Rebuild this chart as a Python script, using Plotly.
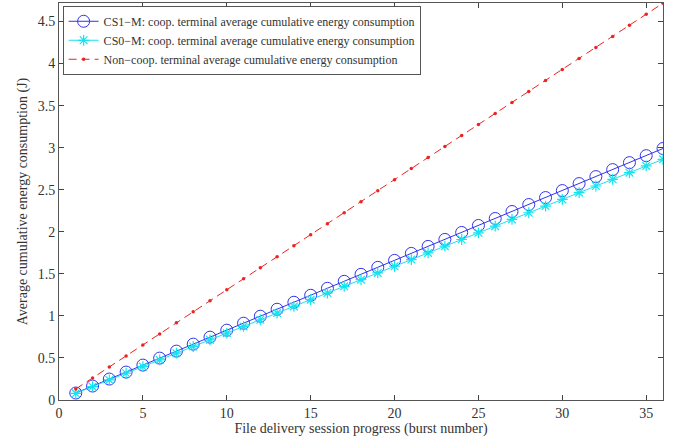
import plotly.graph_objects as go

bursts = list(range(1, 37))
cs1_m = [0.083, 0.166, 0.249, 0.332, 0.415, 0.498, 0.581, 0.664, 0.747, 0.830,
         0.913, 0.996, 1.079, 1.162, 1.245, 1.328, 1.411, 1.494, 1.577, 1.660,
         1.743, 1.826, 1.909, 1.992, 2.075, 2.158, 2.241, 2.324, 2.407, 2.490,
         2.573, 2.656, 2.739, 2.822, 2.905, 2.990]
cs0_m = [0.0795, 0.159, 0.2385, 0.318, 0.3975, 0.477, 0.5565, 0.636, 0.7155, 0.795,
         0.8745, 0.954, 1.0335, 1.113, 1.1925, 1.272, 1.3515, 1.431, 1.5105, 1.590,
         1.6695, 1.749, 1.8285, 1.908, 1.9875, 2.067, 2.1465, 2.226, 2.3055, 2.385,
         2.4645, 2.544, 2.6235, 2.703, 2.7825, 2.862]
noncoop = [0.131, 0.262, 0.393, 0.524, 0.655, 0.786, 0.917, 1.048, 1.179, 1.310,
           1.441, 1.572, 1.703, 1.834, 1.965, 2.096, 2.227, 2.358, 2.489, 2.620,
           2.751, 2.882, 3.013, 3.144, 3.275, 3.406, 3.537, 3.668, 3.799, 3.930,
           4.061, 4.192, 4.323, 4.454, 4.585, 4.718]

x_ticks = [0, 5, 10, 15, 20, 25, 30, 35]
y_ticks = [0, 0.5, 1, 1.5, 2, 2.5, 3, 3.5, 4, 4.5]
y_tick_text = ["0", "0.5", "1", "1.5", "2", "2.5", "3", "3.5", "4", "4.5"]

fig = go.Figure()
fig.add_trace(go.Scatter(
    x=bursts, y=cs1_m, mode="lines+markers",
    name="CS1\u2212M: coop. terminal average cumulative energy consumption",
    line=dict(color="#3333ee", width=1),
    marker=dict(symbol="circle-open", size=12, color="#3333ee", line=dict(width=1))))
fig.add_trace(go.Scatter(
    x=bursts, y=cs0_m, mode="lines+markers",
    name="CS0\u2212M: coop. terminal average cumulative energy consumption",
    line=dict(color="#22ddee", width=1),
    marker=dict(symbol="asterisk-open", size=9, color="#11e5f0", line=dict(width=1.2, color="#11e5f0"))))
fig.add_trace(go.Scatter(
    x=bursts, y=noncoop, mode="lines+markers",
    name="Non\u2212coop. terminal average cumulative energy consumption",
    line=dict(color="#ee2222", width=1, dash="8px,5px"),
    marker=dict(symbol="circle", size=3.5, color="#ee2222")))

axis_common = dict(
    showgrid=False, zeroline=False, ticks="inside", ticklen=5,
    tickcolor="#444", showline=True, linecolor="#555", linewidth=1, mirror="ticks",
    tickfont=dict(family="Liberation Serif", size=14, color="#333"),
    title_font=dict(family="Liberation Serif", size=14, color="#333"),
    automargin=False,
)

fig.update_xaxes(range=[0, 36], tickvals=x_ticks,
                 title_text="File delivery session progress (burst number)",
                 title_standoff=2, **axis_common)
fig.update_yaxes(range=[0, 4.72], tickvals=y_ticks, ticktext=y_tick_text,
                 title_text="Average cumulative energy consumption (J)",
                 title_standoff=6, **axis_common)

fig.update_layout(
    width=678, height=447,
    margin=dict(l=59, r=15, t=3, b=47),
    plot_bgcolor="white", paper_bgcolor="white",
    legend=dict(x=0.006, y=0.993, xanchor="left", yanchor="top",
                bgcolor="white", bordercolor="#555", borderwidth=1,
                font=dict(family="Liberation Serif", size=12, color="#333"),
                tracegroupgap=0, itemwidth=30),
    showlegend=True,
)

fig.write_html("out.html",
               config={"displayModeBar": False},
               post_script="document.body.style.margin='0';document.body.style.padding='0';")
